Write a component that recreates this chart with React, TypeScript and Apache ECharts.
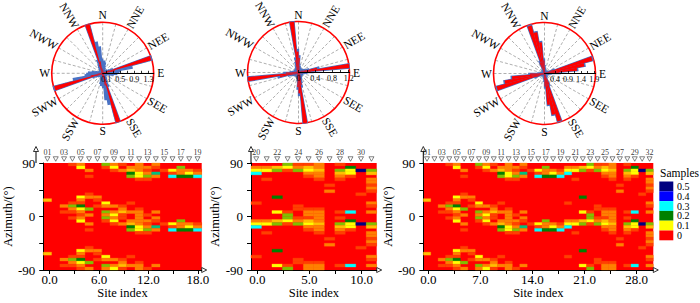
import React, { useEffect, useRef } from "react";
import * as echarts from "echarts";

const FONT = "Liberation Serif";

// ---------- heat-map data (one string per site, top row = 90..85 deg, 5 deg bins) ----------
// code -> value: 0,1,2,3,4,5,6,7,8,9
const LEVEL_VALUES = [0, 0.025, 0.05, 0.075, 0.1, 0.15, 0.2, 0.25, 0.3, 0.5];
const AZ_STEP = 5;

const sites1 = ["01", "02", "03", "04", "05", "06", "07", "08", "09", "10", "11", "12", "13", "14", "15", "16", "17", "18", "19"];
const cols1 = [
  "000000000000300000000000000000300000",
  "000000000000000000000000000000000000",
  "000000000000002010000000000000002010",
  "100000000000015210100000000000015210",
  "240000000004216421240000000004216421",
  "002010000012000502002010000012000502",
  "000000000002101000000000000002101000",
  "510000000000042052510000000000042052",
  "241000000000002024241000000000002024",
  "102000000000001231102000000000001231",
  "023650000000010020023650000000010020",
  "222441000000000122222441000000000122",
  "021251000000000001021251000000000001",
  "210720000000000020210720000000000020",
  "001000000000000000001000000000000000",
  "004180000000000000004180000000000000",
  "052260000000000000052260000000000000",
  "002460000000000000002460000000000000",
  "001280000000000000001280000000000000",
];

const sites2 = ["20", "21", "22", "23", "24", "25", "26", "27", "28", "29", "30", "31"];
const cols2 = [
  "024800000000010000024800000000010000",
  "024001000000000000024001000000000000",
  "035000000006000040035000000006000040",
  "541000000000000015541000000000000015",
  "125000000000001100125000000000001100",
  "134210000000000122134210000000000122",
  "223221000000000122223221000000000122",
  "000000010200000000000000010200000000",
  "105321000000000010105321000000000010",
  "064410000000000080064410000000000080",
  "009000000010000000009000000010000000",
  "005302212100021020005302212100021020",
];

const sites3 = ["01", "02", "03", "04", "05", "06", "07", "08", "09", "10", "11", "12", "13", "14", "15", "16", "17", "18", "19", "20", "21", "22", "23", "24", "25", "26", "27", "28", "29", "30", "32"];
const cols3 = [...cols1, ...cols2];

// x-axis tick values / labels
const xTicks1 = [0, 3, 6, 9, 12, 15, 18];
const xLabels1 = [0, 6, 12, 18];
const xTicks2 = [0, 2.5, 5, 7.5, 10];
const xLabels2 = [0, 5, 10];
const xTicks3 = [0, 3.5, 7, 10.5, 14, 17.5, 21, 24.5, 28];
const xLabels3 = [0, 7, 14, 21, 28];
const azLabels = [90, 0, -90];

// legend levels
const legendLevels = [0.5, 0.4, 0.3, 0.2, 0.1, 0];

// ---------- rose data: 72 bins of 5 deg, bin k covers bearing [5k, 5k+5) ----------
const roseRed1 = [
  0.1, 0.1, 0.08, 0.05, 0.05, 0.05, 0.05, 0.05, 0.05, 0.05, 0.05, 0.08, 0.1, 0.2, 1.43, 0.35, 0.15, 0.1,
  0.08, 0.05, 0.05, 0.05, 0.05, 0.05, 0.05, 0.05, 0.05, 0.05, 0.08, 0.1, 0.15, 0.25, 1.45, 0.35, 0.15, 0.1,
  0.1, 0.1, 0.08, 0.05, 0.05, 0.05, 0.05, 0.05, 0.05, 0.05, 0.05, 0.08, 0.1, 0.2, 1.43, 0.35, 0.15, 0.1,
  0.08, 0.05, 0.05, 0.05, 0.05, 0.05, 0.05, 0.05, 0.05, 0.05, 0.08, 0.1, 0.15, 0.25, 1.45, 0.35, 0.15, 0.1,
];
const roseBlue1 = [
  0.3, 0.35, 0.3, 0.2, 0.15, 0.12, 0.1, 0.1, 0.1, 0.1, 0.12, 0.15, 0.2, 0.3, 1.46, 0.85, 0.5, 0.45,
  0.4, 0.3, 0.2, 0.12, 0.1, 0.1, 0.1, 0.1, 0.1, 0.12, 0.15, 0.2, 0.25, 0.4, 1.47, 0.9, 0.75, 0.4,
  0.3, 0.35, 0.3, 0.2, 0.15, 0.12, 0.1, 0.1, 0.1, 0.1, 0.12, 0.15, 0.2, 0.3, 1.46, 0.85, 0.5, 0.45,
  0.4, 0.3, 0.2, 0.12, 0.1, 0.1, 0.1, 0.1, 0.1, 0.12, 0.15, 0.2, 0.25, 0.4, 1.47, 0.9, 0.75, 0.4,
];
const roseRed2 = [
  0.35, 0.15, 0.1, 0.08, 0.05, 0.05, 0.05, 0.05, 0.05, 0.05, 0.05, 0.08, 0.1, 0.12, 0.2, 0.45, 1.22, 0.3,
  0.15, 0.1, 0.08, 0.05, 0.05, 0.05, 0.05, 0.05, 0.05, 0.05, 0.05, 0.08, 0.1, 0.12, 0.2, 0.3, 1.22, 0.5,
  0.35, 0.15, 0.1, 0.08, 0.05, 0.05, 0.05, 0.05, 0.05, 0.05, 0.05, 0.08, 0.1, 0.12, 0.2, 0.45, 1.22, 0.3,
  0.15, 0.1, 0.08, 0.05, 0.05, 0.05, 0.05, 0.05, 0.05, 0.05, 0.05, 0.08, 0.1, 0.12, 0.2, 0.3, 1.22, 0.5,
];
const roseBlue2 = [
  0.4, 0.2, 0.15, 0.12, 0.1, 0.1, 0.1, 0.1, 0.1, 0.1, 0.1, 0.12, 0.15, 0.17, 0.25, 0.5, 1.23, 0.35,
  0.2, 0.15, 0.12, 0.1, 0.1, 0.1, 0.1, 0.1, 0.1, 0.1, 0.1, 0.12, 0.15, 0.17, 0.25, 0.35, 1.23, 0.55,
  0.4, 0.2, 0.15, 0.12, 0.1, 0.1, 0.1, 0.1, 0.1, 0.1, 0.1, 0.12, 0.15, 0.17, 0.25, 0.5, 1.23, 0.35,
  0.2, 0.15, 0.12, 0.1, 0.1, 0.1, 0.1, 0.1, 0.1, 0.1, 0.1, 0.12, 0.15, 0.17, 0.25, 0.35, 1.23, 0.55,
];
const roseRed3 = [
  0.25, 0.15, 0.1, 0.08, 0.05, 0.05, 0.05, 0.05, 0.05, 0.05, 0.05, 0.08, 0.12, 0.35, 1.9, 1.55, 1.25, 0.55,
  0.2, 0.1, 0.08, 0.05, 0.05, 0.05, 0.05, 0.05, 0.05, 0.05, 0.08, 0.1, 0.12, 0.45, 1.9, 1.6, 1.2, 0.5,
  0.25, 0.15, 0.1, 0.08, 0.05, 0.05, 0.05, 0.05, 0.05, 0.05, 0.05, 0.08, 0.12, 0.35, 1.9, 1.55, 1.25, 0.55,
  0.2, 0.1, 0.08, 0.05, 0.05, 0.05, 0.05, 0.05, 0.05, 0.05, 0.08, 0.1, 0.12, 0.45, 1.9, 1.6, 1.2, 0.5,
];
const roseBlue3 = [
  0.3, 0.2, 0.15, 0.12, 0.1, 0.1, 0.1, 0.1, 0.1, 0.1, 0.1, 0.12, 0.17, 0.4, 1.92, 1.58, 1.28, 0.6,
  0.25, 0.15, 0.12, 0.1, 0.1, 0.1, 0.1, 0.1, 0.1, 0.1, 0.12, 0.15, 0.17, 0.5, 1.92, 1.63, 1.23, 0.55,
  0.3, 0.2, 0.15, 0.12, 0.1, 0.1, 0.1, 0.1, 0.1, 0.1, 0.1, 0.12, 0.17, 0.4, 1.92, 1.58, 1.28, 0.6,
  0.25, 0.15, 0.12, 0.1, 0.1, 0.1, 0.1, 0.1, 0.1, 0.1, 0.12, 0.15, 0.17, 0.5, 1.92, 1.63, 1.23, 0.55,
];
const radTicks1 = [0.1, 0.3, 0.5, 0.7, 0.9, 1.1, 1.3];
const radLabels1 = [0.1, 0.5, 0.9, 1.3];
const radTicks2 = [0, 0.2, 0.4, 0.6, 0.8, 1.0, 1.2];
const radLabels2 = [0, 0.4, 0.8, 1.2];
const radTicks3 = [0.4, 0.65, 0.9, 1.15, 1.4, 1.65, 1.9];
const radLabels3 = [0.4, 0.9, 1.4, 1.9];
const dirLabels = ["N", "NNE", "NEE", "E", "SEE", "SSE", "S", "SSW", "SWW", "W", "NWW", "NNW"];

// ---------- layout ----------
const GRID_TOP = 163;
const GRID_H = 107;
const PANELS = [
  { cols: cols1, sites: sites1, left: 36, width: 165.7, xMin: -0.78, xMax: 18.46, ticks: xTicks1, labels: xLabels1 },
  { cols: cols2, sites: sites2, left: 251, width: 125.7, xMin: -0.6, xMax: 11.44, ticks: xTicks2, labels: xLabels2 },
  { cols: cols3, sites: sites3, left: 423.3, width: 230, xMin: -0.67, xMax: 30.23, ticks: xTicks3, labels: xLabels3 },
];
const ROSES = [
  { cx: 102.7, cy: 73.3, R: 51, max: 1.45, red: roseRed1, blue: roseBlue1, ticks: radTicks1, labels: radLabels1 },
  { cx: 298.5, cy: 72.5, R: 51, max: 1.22, red: roseRed2, blue: roseBlue2, ticks: radTicks2, labels: radLabels2 },
  { cx: 544.5, cy: 73.5, R: 51, max: 1.95, red: roseRed3, blue: roseBlue3, ticks: radTicks3, labels: radLabels3 },
];

const COLOR_STOPS: [number, number[]][] = [
  [0, [255, 0, 0]],
  [0.1, [255, 255, 0]],
  [0.2, [0, 128, 0]],
  [0.3, [0, 255, 255]],
  [0.4, [0, 0, 255]],
  [0.5, [0, 0, 128]],
];
function heatColor(v: number): string {
  if (v <= COLOR_STOPS[0][0]) return `rgb(${COLOR_STOPS[0][1].join(",")})`;
  for (let i = 1; i < COLOR_STOPS.length; i++) {
    const [v1, c1] = COLOR_STOPS[i];
    const [v0, c0] = COLOR_STOPS[i - 1];
    if (v <= v1) {
      const t = (v - v0) / (v1 - v0);
      const c = c0.map((a, j) => Math.round(a + (c1[j] - a) * t));
      return `rgb(${c.join(",")})`;
    }
  }
  return `rgb(${COLOR_STOPS[COLOR_STOPS.length - 1][1].join(",")})`;
}

function cellsOf(cols: string[]) {
  const out: number[][] = [];
  cols.forEach((s, c) => {
    for (let r = 0; r < s.length; r++) {
      const v = LEVEL_VALUES[Number(s[r])];
      if (v > 0) out.push([c, 90 - AZ_STEP * (r + 1), 90 - AZ_STEP * r, v]);
    }
  });
  return out;
}

const fmt1 = (v: number) => String(Math.round(v * 100) / 100);

function buildOption() {
  const grid: any[] = [];
  const xAxis: any[] = [];
  const yAxis: any[] = [];
  const series: any[] = [];
  const graphic: any[] = [];

  PANELS.forEach((p, g) => {
    grid.push({ left: p.left, top: GRID_TOP, width: p.width, height: GRID_H, show: true, backgroundColor: "#ff0000", borderWidth: 0 });
    xAxis.push({ gridIndex: g, type: "value", min: 0, max: p.cols.length, show: false });
    xAxis.push({
      gridIndex: g,
      type: "value",
      min: p.xMin,
      max: p.xMax,
      position: "bottom",
      axisLine: { show: true, onZero: false, lineStyle: { color: "#000", width: 1 } },
      axisTick: { show: true, customValues: p.ticks, length: 4, lineStyle: { color: "#000", width: 1 } },
      axisLabel: { customValues: p.labels, formatter: (v: number) => v.toFixed(1), margin: 3, fontFamily: FONT, fontSize: 13, color: "#000" },
      splitLine: { show: false },
      name: "Site index",
      nameLocation: "middle",
      nameGap: 14,
      nameTextStyle: { fontFamily: FONT, fontSize: 12.5, color: "#000" },
    });
    yAxis.push({
      gridIndex: g,
      type: "value",
      min: -90,
      max: 90,
      interval: 45,
      axisLine: { show: true, onZero: false, lineStyle: { color: "#000", width: 1 } },
      axisTick: { show: true, length: 4, lineStyle: { color: "#000", width: 1 } },
      axisLabel: {
        formatter: (v: number) => (azLabels.indexOf(v) >= 0 ? String(v) : ""),
        margin: 8,
        fontFamily: FONT,
        fontSize: 13,
        color: "#000",
      },
      splitLine: { show: false },
      name: "Azimuth/(°)",
      nameLocation: "middle",
      nameGap: 21,
      nameRotate: 90,
      nameTextStyle: { fontFamily: FONT, fontSize: 12.5, color: "#000" },
    });
    series.push({
      type: "custom",
      xAxisIndex: 2 * g,
      yAxisIndex: g,
      data: cellsOf(p.cols),
      encode: { x: 0, y: [1, 2] },
      silent: true,
      renderItem: (params: any, api: any) => {
        const c = api.value(0);
        const lo = api.value(1);
        const hi = api.value(2);
        const v = api.value(3);
        const p0 = api.coord([c, hi]);
        const p1 = api.coord([c + 1, lo]);
        const col = heatColor(v);
        return {
          type: "rect",
          shape: { x: p0[0], y: p0[1], width: p1[0] - p0[0], height: p1[1] - p0[1] },
          style: { fill: col, stroke: col, lineWidth: 0.3 },
        };
      },
    });
    const sites = p.sites;
    series.push({
      type: "scatter",
      xAxisIndex: 2 * g,
      yAxisIndex: g,
      data: sites.map((s, i) => [i + 0.5, 90]),
      symbol: "triangle",
      symbolRotate: 180,
      symbolSize: [5, 4.5],
      symbolOffset: [0, -4],
      clip: false,
      silent: true,
      itemStyle: { color: "#fff", borderColor: "#222", borderWidth: 0.7 },
      label: {
        show: true,
        position: "top",
        distance: 0,
        formatter: (prm: any) => (prm.dataIndex % 2 === 0 ? sites[prm.dataIndex] : ""),
        fontFamily: FONT,
        fontSize: 8,
        color: "#000",
        textBorderWidth: 0,
      },
    });
    // axis arrows (open heads)
    const L = p.left;
    const Rt = p.left + p.width;
    const B = GRID_TOP + GRID_H;
    graphic.push({ type: "line", shape: { x1: L, y1: GRID_TOP, x2: L, y2: 151.5 }, style: { stroke: "#000", lineWidth: 1 } });
    graphic.push({ type: "polygon", shape: { points: [[L, 146.5], [L - 2.5, 151.5], [L + 2.5, 151.5]] }, style: { fill: "#fff", stroke: "#000", lineWidth: 0.8 } });
    graphic.push({ type: "polygon", shape: { points: [[Rt, B - 2.5], [Rt + 5, B], [Rt, B + 2.5]] }, style: { fill: "#fff", stroke: "#000", lineWidth: 0.8 } });
  });

  // roses
  const polar: any[] = [];
  const angleAxis: any[] = [];
  const radiusAxis: any[] = [];
  const binNames = Array.from({ length: 72 }, (_, i) => String(i));
  ROSES.forEach((r, i) => {
    polar.push({ center: [r.cx, r.cy], radius: r.R });
    angleAxis.push({
      polarIndex: i,
      type: "category",
      data: binNames,
      startAngle: 0,
      clockwise: true,
      boundaryGap: true,
      axisLine: { show: true, lineStyle: { color: "#ff0000", width: 1.6 } },
      axisTick: { show: false },
      axisLabel: { show: false },
      splitLine: { show: true, interval: 5, lineStyle: { color: "#9a9a9a", type: [3, 2], width: 0.8 } },
      z: 1,
    });
    radiusAxis.push({
      polarIndex: i,
      type: "value",
      min: 0,
      max: r.max,
      axisLine: { show: true, lineStyle: { color: "#000", width: 1 } },
      axisTick: { show: true, customValues: r.ticks, length: 2.5, lineStyle: { color: "#000", width: 0.8 } },
      axisLabel: { customValues: r.labels, formatter: fmt1, margin: -2, verticalAlign: "top", fontFamily: FONT, fontSize: 8, color: "#000" },
      splitLine: { show: false },
      z: 5,
    });
    // category index i  -> bearing 90 + 5i  -> bin (i + 18) % 72
    const order = (arr: number[]) => binNames.map((_, j) => arr[(j + 18) % 72]);
    series.push({
      type: "bar",
      coordinateSystem: "polar",
      polarIndex: i,
      data: order(r.blue),
      barCategoryGap: "0%",
      barGap: "-100%",
      silent: true,
      itemStyle: { color: "#4a72c4", borderColor: "#4a72c4", borderWidth: 1.3 },
    });
    series.push({
      type: "bar",
      coordinateSystem: "polar",
      polarIndex: i,
      data: order(r.red),
      barCategoryGap: "0%",
      barGap: "-100%",
      silent: true,
      itemStyle: { color: "#ff0000" },
    });
    // direction labels
    dirLabels.forEach((t, k) => {
      const b = k * 30;
      const rad = (b * Math.PI) / 180;
      const common = { fill: "#000", fontFamily: FONT, fontSize: 11.5 };
      if (t.length === 1) {
        const rr = r.R + 7;
        graphic.push({
          type: "text",
          x: r.cx + rr * Math.sin(rad),
          y: r.cy - rr * Math.cos(rad),
          style: { ...common, text: t, align: "center", verticalAlign: "middle", textAlign: "center", textVerticalAlign: "middle" },
        });
      } else {
        const rr = r.R + 2;
        const right = b < 180;
        const rot = right ? 90 - b : 270 - b;
        graphic.push({
          type: "text",
          x: r.cx + rr * Math.sin(rad),
          y: r.cy - rr * Math.cos(rad),
          rotation: (rot * Math.PI) / 180,
          style: {
            ...common,
            text: t,
            align: right ? "left" : "right",
            textAlign: right ? "left" : "right",
            verticalAlign: "middle",
            textVerticalAlign: "middle",
          },
        });
      }
    });
  });

  // legend
  graphic.push({ type: "text", x: 660, y: 172.5, style: { text: "Samples", fill: "#000", fontFamily: FONT, fontSize: 11.5, align: "left", verticalAlign: "middle", textAlign: "left", textVerticalAlign: "middle" } });
  legendLevels.forEach((lv, i) => {
    const y = 181.5 + i * 9.8;
    graphic.push({ type: "rect", shape: { x: 659.3, y, width: 14, height: 9.8 }, style: { fill: heatColor(lv) } });
    graphic.push({ type: "text", x: 677, y: y + 4.9, style: { text: String(lv), fill: "#000", fontFamily: FONT, fontSize: 10, align: "left", verticalAlign: "middle", textAlign: "left", textVerticalAlign: "middle" } });
  });

  return {
    animation: false,
    textStyle: { fontFamily: FONT },
    grid,
    xAxis,
    yAxis,
    polar,
    angleAxis,
    radiusAxis,
    series,
    graphic,
  };
}

export default function App() {
  const ref = useRef<HTMLDivElement>(null);
  useEffect(() => {
    if (!ref.current) return;
    const chart = echarts.init(ref.current, null, { renderer: "svg" });
    chart.setOption(buildOption() as any);
    return () => chart.dispose();
  }, []);
  return <div ref={ref} style={{ position: "absolute", left: 0, top: 0, width: 700, height: 303, background: "#fff" }} />;
}
